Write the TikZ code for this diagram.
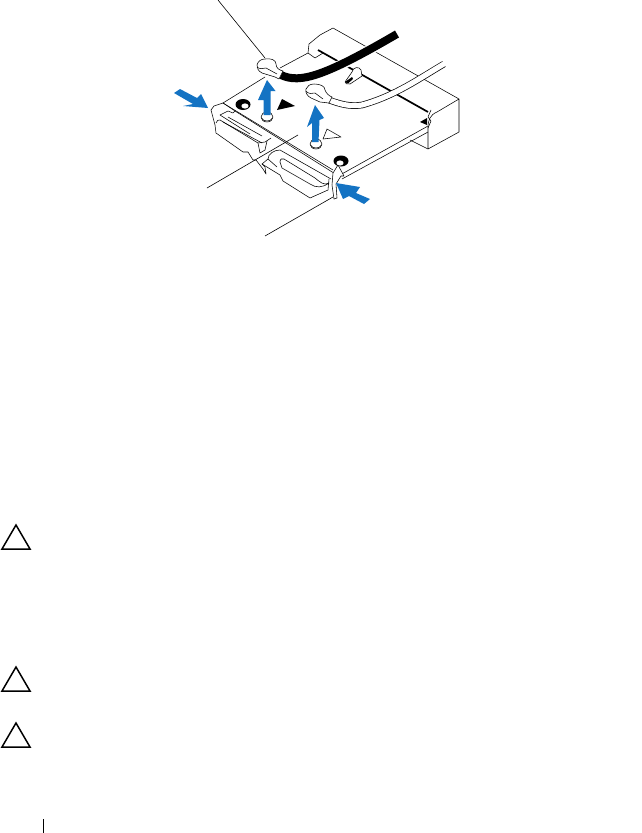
\documentclass[tikz,border=0pt]{standalone}
\definecolor{arrowblue}{RGB}{20,115,195}
\tikzset{
  ln/.style={draw=black,line width=0.55pt,line join=round,line cap=round},
  leader/.style={draw=black,line width=0.6pt},
  rail/.style={draw=black,line width=1.7pt},
  bluearrow/.style={fill=arrowblue,draw=none},
  caution/.style={draw=black,line width=1.5pt,line join=miter,fill=white},
  lug/.style={ln,fill=white},
  whitecable/.style={draw=black,line width=6.6pt},
  hole/.style={fill=black,draw=none}
}
\begin{document}
\begin{tikzpicture}[x=1pt,y=-1pt]
\useasboundingbox (0,0) rectangle (641,833);
% rail behind the cables
\draw[rail] (318,50) -- (428,112);
% housing
\draw[ln] (223,103) -- (265,77);
\draw[ln] (280,68) -- (308,53) -- (309,44) -- (320,35) -- (333,28) -- (459,99) -- (459,132) -- (428,149) -- (428,128)
  .. controls (428,120) and (430,115) .. (437,112) -- (459,99);
\draw[ln] (308,53) -- (315,58) -- (323,53);
\draw[ln] (431,110) -- (428,117) -- (431,121) -- (428,128);
\draw[ln] (410,140) -- (428,149);
\draw[ln] (340,175) -- (428,126);
\draw[ln] (342,179) -- (428,132);
\fill (420,122) -- (427,118) -- (427,125) -- cycle;
% inner clip
\draw[lug] (345,82) -- (352,72) .. controls (353,67) and (359,66) .. (361,70) -- (362,76) -- (350,84) .. controls (347,84) and (345,84) .. (345,82) -- cycle;
\fill (345,82) -- (352,77) -- (353,79) -- (348,83.5) -- cycle;
% white cable
\draw[whitecable] (444,64) .. controls (420,78) and (395,96) .. (362,105) .. controls (350,107) and (340,104) .. (329,100);
\draw[draw=white,line width=5.2pt] (445,63.3) .. controls (420,78) and (395,96) .. (362,105) .. controls (350,107) and (340,104) .. (329,100);
% black cable
\draw[draw=white,line width=10.5pt] (283,76) .. controls (302,84) and (325,76) .. (398,34);
\draw[draw=black,line width=8pt] (281,75) .. controls (300,84) and (325,76) .. (397,34);
% lugs
\draw[lug] (257,65) .. controls (258,61) and (261,59) .. (265,59) .. controls (271,58) and (276,60) .. (276,64) .. controls (276,68) and (279,70) .. (283,71)
  -- (279,79) -- (275,77) -- (262,73) .. controls (258,71) and (257,68) .. (257,65) -- cycle;
\draw[ln] (257,67) .. controls (259,69) and (263,69) .. (266,68) -- (277,74);
\draw[lug] (306,89) .. controls (307,86) and (310,84) .. (314,84) .. controls (320,84) and (325,86) .. (325,90) .. controls (326,93) and (329,96) .. (332,97)
  -- (329,103) -- (320,102) -- (311,98) .. controls (307,96) and (305,92) .. (306,89) -- cycle;
\draw[ln] (306,91) .. controls (308,94) and (312,94) .. (315,93) -- (323,99);
% leaders
\draw[leader] (218,0) -- (265,58);
% connector, clip and long edges
\draw[ln] (223,103) -- (333,170);
\draw[ln] (235,111) -- (333,172.5);
\draw[ln] (220,115) -- (250,134);
\draw[ln] (228,117) -- (262,136);
\draw[ln] (211,110) -- (214,106) -- (223,103);
\draw[ln] (223,103) -- (235,111) -- (233,113) -- (228,111) -- (220,115);
\draw[ln] (211,110) -- (215,125);
% left plug
\draw[ln] (216,123) .. controls (217,120) and (218,120) .. (220,120) -- (258,143) -- (265,142) -- (271,138);
\draw[ln] (223,122) -- (262,143);
\draw[ln] (258,143) -- (260,153) -- (265,150) -- (267,141);
\draw[ln] (215,125) -- (216,133) -- (243,152) -- (248,152) -- (253,160) -- (256,160);
% notch and right plug
\draw[ln] (256,160) -- (263,169) -- (266,174) -- (265,167) -- (262,164) -- (268,159);
\draw[ln] (268,159) .. controls (268,154) and (274,150) .. (280,150) -- (331,179);
\draw[ln] (262,164) -- (280,175) -- (283,181) -- (310,198) -- (328,190) -- (329,179);
\draw[ln] (280,162) .. controls (280,159) and (282,158) .. (284,159) -- (315,178) .. controls (320,182) and (324,186) .. (329,183);
\draw[ln] (280,162) -- (282,168) -- (310,184) .. controls (316,188) and (322,188) .. (329,183);
\draw[ln] (268,159) -- (277,167);
% right latch
\draw[lug] (338,165) -- (333,173) -- (332,185) -- (334,199) -- (337,198) -- (336,184) -- (341,176) -- (344,176) -- (338,165);
% leaders over the connector
\draw[leader] (207,188) -- (298,135);
\draw[leader] (265,236) -- (333,197);
% holes
\draw[hole] (243,104.5) ellipse (7.5 and 5.5);
\draw[fill=white,draw=none] (245,106) ellipse (3.6 and 2.6);
\draw[hole] (341,161) ellipse (7.5 and 5.5);
\draw[fill=white,draw=none] (340,163) ellipse (3.6 and 2.6);
% screws
\draw[lug] (267,117) ellipse (6 and 5);
\draw[ln] (261.5,118) .. controls (263,122) and (271,122) .. (272.5,118);
\draw[lug] (316,144) ellipse (6 and 5);
\draw[ln] (310.5,145) .. controls (312,149) and (320,149) .. (321.5,145);
% triangles on the board
\fill (282,99) -- (295,106) -- (277,110) -- cycle;
\draw[ln,fill=white] (327,129) -- (341,137) -- (323,139) -- cycle;
% blue arrows
\fill[bluearrow] (267,80) -- (275.5,91) -- (270.5,91) -- (270.5,115) -- (263.5,115) -- (263.5,100) -- (258,100) -- cycle;
\fill[bluearrow] (315,105) -- (324,118) -- (319.5,120) -- (318.5,142) -- (312,142) -- (312,123) -- (307,127) -- cycle;
\fill[bluearrow] (174,93) -- (180,89) -- (197,98) -- (201,94) -- (208,108) -- (183,106) -- (193,104) -- cycle;
\fill[bluearrow] (336,183) -- (360,187) -- (356,193) -- (370,199) -- (364,204) -- (349,196) -- (343,199) -- cycle;
% caution triangles
\draw[caution] (16,525) -- (30,549) -- (2,549) -- cycle;
\draw[caution] (16,667) -- (30,691) -- (2,691) -- cycle;
\draw[caution] (16,723) -- (30,747) -- (2,747) -- cycle;
% page rule
\draw[draw=black,line width=0.8pt] (43,819) -- (43,833);
\end{tikzpicture}
\end{document}
